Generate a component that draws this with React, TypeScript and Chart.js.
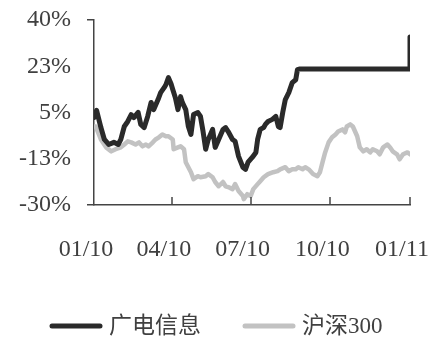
import React, { useEffect, useRef } from "react";
import { Chart, registerables } from "chart.js";

Chart.register(...registerables);

// x = calendar day offset from 2010-01-01
const xTickDays = [0, 90, 181, 273, 365];
const xTickLabels = ["01/10", "04/10", "07/10", "10/10", "01/11"];
const yTickValues = [-30, -12.5, 5, 22.5, 40];
const yTickLabels = ["-30%", "-13%", "5%", "23%", "40%"];

const seriesNames = ["广电信息", "沪深300"];

const gdDays = [0, 3, 8, 12, 17, 23, 28, 31, 35, 39, 43, 46, 51, 54, 58, 62, 66, 69, 74, 77, 81, 83, 86, 89, 91, 94, 97, 100, 102, 106, 109, 112, 115, 120, 123, 126, 129, 132, 137, 140, 144, 149, 152, 155, 160, 163, 167, 172, 175, 178, 183, 187, 189, 192, 196, 198, 201, 206, 210, 213, 215, 218, 221, 225, 229, 233, 235, 238, 365, 365];
const gdValues = [3.1, 5.8, -0.7, -5.2, -7.1, -6.3, -7.1, -5.2, -0.3, 1.6, 4.2, 3.1, 5.0, 0.5, -0.7, 3.5, 8.8, 6.1, 9.9, 12.5, 14.4, 15.5, 18.2, 15.9, 13.7, 10.6, 6.1, 11.0, 8.8, 6.1, -0.3, -3.3, 4.2, 5.0, 3.5, -2.2, -8.9, -5.2, -1.4, -8.2, -5.2, -1.4, -0.7, -2.2, -5.2, -5.9, -11.6, -15.7, -16.5, -13.8, -11.9, -10.1, -5.2, -1.4, -0.7, 0.5, 1.6, 2.4, 3.5, -0.3, -0.7, 5.0, 9.9, 12.5, 16.3, 17.4, 21.2, 21.5, 21.5, 33.6];

const hsDays = [0, 2, 8, 14, 20, 25, 31, 35, 39, 43, 48, 52, 56, 60, 63, 68, 71, 75, 79, 83, 86, 91, 92, 97, 100, 104, 106, 112, 115, 120, 123, 129, 132, 137, 140, 144, 149, 152, 155, 160, 163, 167, 172, 173, 177, 181, 184, 189, 192, 196, 201, 207, 212, 215, 221, 225, 229, 233, 236, 241, 244, 248, 253, 258, 261, 264, 267, 271, 275, 279, 282, 287, 290, 292, 296, 299, 304, 307, 311, 315, 319, 322, 327, 330, 334, 339, 342, 345, 350, 353, 357, 362, 365];
const hsValues = [-0.3, -0.3, -5.2, -8.2, -9.7, -8.9, -8.2, -7.1, -5.9, -6.3, -7.1, -6.3, -7.8, -7.1, -7.8, -6.3, -5.2, -4.4, -3.3, -4.0, -4.0, -5.2, -8.9, -8.2, -7.8, -8.9, -13.8, -17.6, -20.2, -19.1, -19.5, -19.1, -18.3, -19.5, -21.3, -22.9, -21.3, -22.9, -23.2, -24.0, -22.1, -24.7, -26.6, -27.8, -25.9, -26.6, -24.0, -22.1, -21.0, -19.5, -18.3, -17.6, -17.2, -16.5, -15.7, -17.2, -16.5, -16.5, -15.7, -16.5, -15.7, -16.5, -18.3, -19.1, -17.6, -13.8, -10.1, -6.3, -4.4, -3.3, -2.2, -1.4, -2.5, -0.3, 0.5, -0.3, -4.0, -8.2, -9.7, -8.9, -10.1, -8.9, -9.7, -10.8, -8.2, -7.1, -8.2, -9.7, -10.8, -12.7, -10.8, -10.1, -10.8];

const seriesColors = ["#2a2a2a", "#c2c2c2"];
const seriesWidths = [5, 4.5];

const FONT = '"Liberation Serif", "Noto Sans CJK SC", serif';
const TEXT = "#404040";
const AXIS = "#444444";

const innerTicks = {
  id: "innerTicks",
  afterDatasetsDraw(chart: any) {
    const { ctx, chartArea, scales } = chart;
    const xs = scales.x;
    ctx.save();
    ctx.strokeStyle = AXIS;
    ctx.lineWidth = 1.5;
    xs.ticks.forEach((t: any, i: number) => {
      if (i === 0) return;
      const px = Math.round(xs.getPixelForValue(t.value));
      ctx.beginPath();
      ctx.moveTo(px, chartArea.bottom);
      ctx.lineTo(px, chartArea.bottom - 8);
      ctx.stroke();
    });
    ctx.restore();
  },
};

const lineLegend = {
  id: "lineLegend",
  afterDraw(chart: any) {
    const { ctx } = chart;
    const ds = chart.data.datasets;
    const lineW = 52;
    const gap = 7;
    const itemGap = 42;
    ctx.save();
    ctx.font = `23px ${FONT}`;
    let x = 50;
    const y = 326;
    ds.forEach((d: any) => {
      const w = ctx.measureText(d.label).width;
      ctx.strokeStyle = d.borderColor;
      ctx.lineWidth = 5;
      ctx.lineCap = "round";
      ctx.beginPath();
      ctx.moveTo(x + 2, y);
      ctx.lineTo(x + lineW - 2, y);
      ctx.stroke();
      ctx.fillStyle = TEXT;
      ctx.textBaseline = "middle";
      ctx.textAlign = "left";
      ctx.fillText(d.label, x + lineW + gap, y + 1);
      x += lineW + gap + w + itemGap;
    });
    ctx.restore();
  },
};

export default function App() {
  const ref = useRef<HTMLCanvasElement | null>(null);
  useEffect(() => {
    if (!ref.current) return;
    const days = [gdDays, hsDays];
    const vals = [gdValues, hsValues];
    const chart = new Chart(ref.current, {
      type: "line",
      data: {
        datasets: seriesNames.map((name, i) => ({
          label: name,
          data: days[i].map((d, j) => ({ x: d, y: vals[i][j] })),
          borderColor: seriesColors[i],
          backgroundColor: seriesColors[i],
          borderWidth: seriesWidths[i],
          pointRadius: 0,
          tension: 0,
          borderJoinStyle: "round" as const,
          borderCapStyle: "round" as const,
        })),
      },
      options: {
        responsive: false,
        animation: false,
        layout: { padding: { top: 20, left: 3, right: 32, bottom: 0 } },
        plugins: { legend: { display: false }, tooltip: { enabled: false } },
        scales: {
          x: {
            type: "linear",
            min: 0,
            max: 365,
            afterBuildTicks: (s: any) => {
              s.ticks = xTickDays.map((v) => ({ value: v }));
            },
            afterFit: (s: any) => {
              s.height = 134;
              s.paddingLeft = 0;
              s.paddingRight = 0;
            },
            grid: { display: false },
            border: { display: true, color: AXIS, width: 1.5 },
            ticks: {
              autoSkip: false,
              maxRotation: 0,
              padding: 22,
              labelOffset: -8,
              color: TEXT,
              font: { family: FONT, size: 24 },
              callback: (_v: any, i: number) => xTickLabels[i],
            },
          },
          y: {
            type: "linear",
            min: -30,
            max: 40,
            afterBuildTicks: (s: any) => {
              s.ticks = yTickValues.map((v) => ({ value: v }));
            },
            afterFit: (s: any) => {
              s.paddingTop = 0;
              s.paddingBottom = 0;
            },
            grid: {
              display: true,
              drawOnChartArea: false,
              drawTicks: true,
              tickLength: 7,
              lineWidth: 1.5,
              color: (c: any) =>
                c.index === 0 || c.index === yTickValues.length - 1 ? AXIS : "rgba(0,0,0,0)",
            },
            border: { display: true, color: AXIS, width: 1.5 },
            ticks: {
              padding: 16,
              color: TEXT,
              font: { family: FONT, size: 24 },
              callback: (_v: any, i: number) => yTickLabels[i],
            },
          },
        },
      },
      plugins: [innerTicks, lineLegend],
    });
    return () => chart.destroy();
  }, []);
  return (
    <div style={{ position: "fixed", left: 0, top: 0, width: 442, height: 339, background: "#fff" }}>
      <canvas ref={ref} width={442} height={339} />
    </div>
  );
}
